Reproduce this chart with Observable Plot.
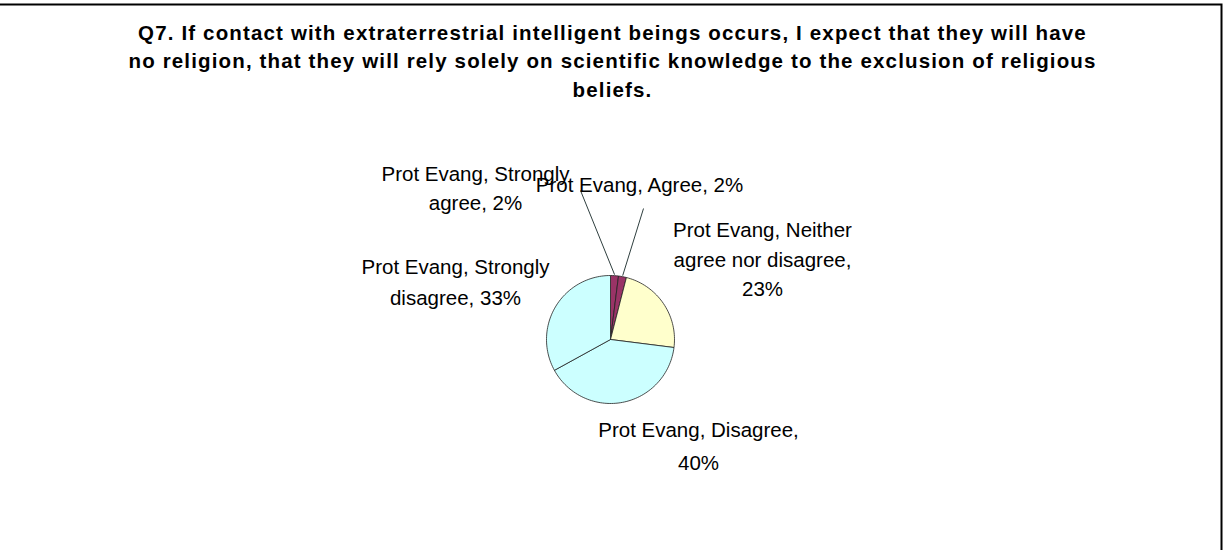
<!DOCTYPE html>
<html>
<head>
<meta charset="utf-8">
<script src="https://cdn.jsdelivr.net/npm/d3@7"></script>
<script src="https://cdn.jsdelivr.net/npm/@observablehq/plot@0.6"></script>
<style>
  html, body { margin: 0; padding: 0; background: #fff; }
  svg { display: block; }
</style>
</head>
<body>
<div id="chart"></div>
<script>
// ---- data ----
const titleLines = [
  "Q7. If contact with extraterrestrial intelligent beings occurs, I expect that they will have",
  "no religion, that they will rely solely on scientific knowledge to the exclusion of religious",
  "beliefs."
];
const categories = ["Strongly agree", "Agree", "Neither agree nor disagree", "Disagree", "Strongly disagree"];
const values = [2, 2, 23, 40, 33];
const seriesName = "Prot Evang";
const sliceColors = ["#993366", "#993366", "#FFFFCC", "#CCFFFF", "#CCFFFF"];
const labelLines = [
  ["Prot Evang, Strongly", "agree, 2%"],
  ["Prot Evang, Agree, 2%"],
  ["Prot Evang, Neither", "agree nor disagree,", "23%"],
  ["Prot Evang, Disagree,", "40%"],
  ["Prot Evang, Strongly", "disagree, 33%"]
];

// ---- layout ----
const W = 1225, H = 550;
const cx = 610, cy = 339, R = 64;
const labelPos = [
  {x: 475, y: 174, dy: 29},
  {x: 639, y: 185, dy: 29},
  {x: 762, y: 230, dy: 29.5},
  {x: 698, y: 430, dy: 33},
  {x: 455, y: 267, dy: 31}
];
const leaderStart = [[580, 190], [643, 208], null, null, null];

const arcs = d3.pie().sort(null).value(d => d)(values);

function pt(a, r) { return [cx + r * Math.sin(a), cy - r * Math.cos(a)]; }

const slices = arcs.map((a, i) => {
  const pts = [{x: cx, y: cy}];
  const n = Math.max(2, Math.ceil((a.endAngle - a.startAngle) / (Math.PI / 90)));
  for (let k = 0; k <= n; k++) {
    const ang = a.startAngle + (a.endAngle - a.startAngle) * k / n;
    const [x, y] = pt(ang, R);
    pts.push({x, y});
  }
  pts.push({x: cx, y: cy});
  return {i, pts, color: sliceColors[i]};
});

const textRows = [];
labelLines.forEach((lines, i) => {
  lines.forEach((t, j) => {
    textRows.push({x: labelPos[i].x, y: labelPos[i].y + j * labelPos[i].dy, text: t});
  });
});

const leaders = [];
arcs.forEach((a, i) => {
  if (!leaderStart[i]) return;
  const mid = (a.startAngle + a.endAngle) / 2;
  const [ex, ey] = pt(mid, R + 1);
  leaders.push({x1: leaderStart[i][0], y1: leaderStart[i][1], x2: ex, y2: ey});
});

const titleRows = titleLines.map((t, j) => ({x: 612, y: 32.5 + j * 28.5, text: t}));

const FONT = "'Liberation Sans', Arial, Helvetica, sans-serif";

const plot = Plot.plot({
  width: W,
  height: H,
  margin: 0,
  style: {fontFamily: FONT, background: "#fff"},
  x: {domain: [0, W], range: [0, W], axis: null},
  y: {domain: [0, H], range: [0, H], axis: null},
  marks: [
    Plot.frame({stroke: "#000", strokeWidth: 2, insetTop: 4, insetRight: 4, insetLeft: -4, insetBottom: -4}),
    ...slices.map(s => Plot.line(s.pts, {x: "x", y: "y", fill: s.color, stroke: "#222", strokeWidth: 0.8, strokeLinejoin: "round"})),
    Plot.link(leaders, {x1: "x1", y1: "y1", x2: "x2", y2: "y2", stroke: "#2f3f3f", strokeWidth: 1}),
    Plot.text(textRows, {x: "x", y: "y", text: "text", fontSize: 20.5, fill: "#000", textAnchor: "middle", lineAnchor: "middle"}),
    Plot.text(titleRows, {x: "x", y: "y", text: "text", fontSize: 20.5, fontWeight: "bold", fill: "#000", textAnchor: "middle", lineAnchor: "middle", render: (index, scales, values, dims, ctx, next) => { const g = next(index, scales, values, dims, ctx); d3.select(g).selectAll("text").style("letter-spacing", "1.15px"); return g; }})
  ]
});
document.getElementById("chart").appendChild(plot);
</script>
</body>
</html>
